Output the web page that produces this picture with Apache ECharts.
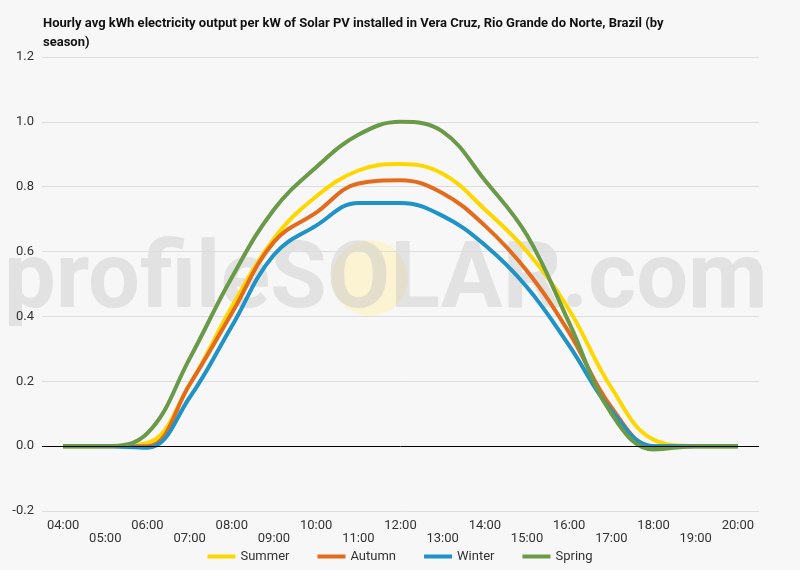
<!DOCTYPE html>
<html><head><meta charset="utf-8">
<script src="https://cdn.jsdelivr.net/npm/echarts@6/dist/echarts.min.js"></script>
<style>html,body{margin:0;padding:0;background:#f7f7f7}#c{width:800px;height:570px}</style>
</head><body><div id="c"></div>
<script>
const hours = ["04:00","05:00","06:00","07:00","08:00","09:00","10:00","11:00","12:00","13:00","14:00","15:00","16:00","17:00","18:00","19:00","20:00"];
const summer = [0,0,0.01,0.19,0.43,0.64,0.77,0.85,0.87,0.84,0.73,0.6,0.42,0.18,0.02,0,0];
const autumn = [0,0,0,0.19,0.41,0.63,0.72,0.81,0.82,0.78,0.68,0.54,0.35,0.12,0,0,0];
const winter = [0,0,-0.005,0.15,0.37,0.59,0.68,0.75,0.75,0.71,0.62,0.49,0.31,0.11,0,0,0];
const spring = [0,0,0.04,0.27,0.52,0.73,0.86,0.96,1.0,0.97,0.82,0.65,0.38,0.1,-0.01,0,0];
const yTicks = {min:-0.2,max:1.2,interval:0.2};
const mk = (name, data, color) => ({name, type:'line', data, smooth:0.4, symbol:'none', lineStyle:{width:4,color}, itemStyle:{color}, z:3});
const chart = echarts.init(document.getElementById('c'));
chart.setOption({
  backgroundColor:'#f7f7f7',
  textStyle:{fontFamily:'Roboto'},
  title:{text:'Hourly avg kWh electricity output per kW of Solar PV installed in Vera Cruz, Rio Grande do Norte, Brazil (by\nseason)',left:38,top:9,textStyle:{fontSize:13,fontWeight:'bold',color:'#111',lineHeight:19,fontFamily:'Roboto'}},
  graphic:[
    {type:'circle',shape:{cx:370,cy:278,r:38},style:{fill:'rgba(255,240,180,0.55)'},z:0},
    {type:'text',left:4,top:238,style:{text:'profileSOLAR.com',font:'bold 92px Roboto',fill:'rgba(200,200,200,0.45)'},z:0}
  ],
  legend:{bottom:2,itemWidth:28,itemHeight:4,itemGap:28,icon:'rect',textStyle:{fontSize:13,color:'#333'},data:['Summer','Autumn','Winter','Spring']},
  grid:{left:42,right:41,top:57,bottom:59},
  xAxis:{type:'category',data:hours,boundaryGap:true,axisTick:{show:false},axisLine:{show:false},
    axisLabel:{interval:0,color:'#333',fontSize:13,formatter:(v,i)=> i%2 ? '\n'+v : v}},
  yAxis:{type:'value',min:yTicks.min,max:yTicks.max,interval:yTicks.interval,
    axisLabel:{color:'#333',fontSize:13,formatter:v=>v.toFixed(1)},splitLine:{lineStyle:{color:'#ddd'}}},
  series:[
    Object.assign(mk('Summer',summer,'#ffd700'),{markLine:{silent:true,symbol:'none',label:{show:false},lineStyle:{color:'#000',width:1,type:'solid'},data:[{yAxis:0}]}}),
    mk('Autumn',autumn,'#e36c1c'),
    mk('Winter',winter,'#1f93c7'),
    mk('Spring',spring,'#6a9a48')
  ]
});
</script></body></html>
